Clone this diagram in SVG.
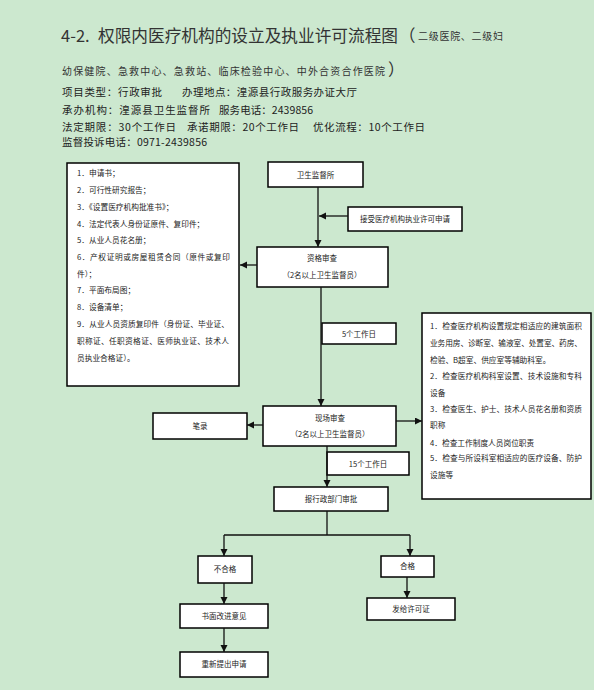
<svg xmlns="http://www.w3.org/2000/svg" width="594" height="690" viewBox="0 0 594 690">
<defs>
<style>
text{font-family:"Noto Sans CJK SC","Noto Sans",sans-serif;fill:#222}
.hd{font-size:10.5px;fill:#222}
.ti{font-size:16.5px;fill:#333}
.sm{font-size:10px;fill:#333}
.bx{fill:#fff;stroke:#000;stroke-width:1.5}
.t{font-size:7.7px}
.c{font-size:7.5px;text-anchor:middle}
.ln{fill:none;stroke:#111;stroke-width:1.3}
</style>
<marker id="ah" markerUnits="userSpaceOnUse" markerWidth="8" markerHeight="8" refX="7" refY="3.5" orient="auto">
<path d="M0,0 L7,3.5 L0,7 z" fill="#111"/>
</marker>
</defs>
<rect x="0" y="0" width="594" height="690" fill="#CCE8CF"/>

<g id="header">
<text class="ti" x="61" y="42">4-2.</text>
<text class="ti" x="98" y="42" textLength="300" lengthAdjust="spacingAndGlyphs">权限内医疗机构的设立及执业许可流程图</text>
<text class="ti" x="399" y="42">（</text>
<text class="sm" x="418" y="40" textLength="85" lengthAdjust="spacing">二级医院、二级妇</text>
<text class="sm" x="62" y="75" font-size="10.5" textLength="323" lengthAdjust="spacing">幼保健院、急救中心、急救站、临床检验中心、中外合资合作医院</text>
<text class="ti" x="388" y="76">）</text>
<text class="hd" x="62" y="96" textLength="100" lengthAdjust="spacing">项目类型：行政审批</text>
<text class="hd" x="182" y="96" textLength="175" lengthAdjust="spacing">办理地点：湟源县行政服务办证大厅</text>
<text class="hd" x="62" y="114" textLength="148" lengthAdjust="spacing">承办机构：湟源县卫生监督所</text>
<text class="hd" x="219" y="114" textLength="94" lengthAdjust="spacing">服务电话：2439856</text>
<text class="hd" x="62" y="131" textLength="114" lengthAdjust="spacing">法定期限：30个工作日</text>
<text class="hd" x="187" y="131" textLength="112" lengthAdjust="spacing">承诺期限：20个工作日</text>
<text class="hd" x="313" y="131" textLength="112" lengthAdjust="spacing">优化流程：10个工作日</text>
<text class="hd" x="62" y="146" textLength="145" lengthAdjust="spacing">监督投诉电话：0971-2439856</text>
</g>

<g id="materials">
<rect class="bx" x="67" y="163" width="172" height="223"/>
<text class="t" x="77" y="176">1．申请书；</text>
<text class="t" x="77" y="193">2．可行性研究报告；</text>
<text class="t" x="77" y="210">3．《设置医疗机构批准书》；</text>
<text class="t" x="77" y="227">4．法定代表人身份证原件、复印件；</text>
<text class="t" x="77" y="243">5．从业人员花名册；</text>
<text class="t" x="77" y="260" textLength="153" lengthAdjust="spacing">6．产权证明或房屋租赁合同（原件或复印</text>
<text class="t" x="77" y="277">件）；</text>
<text class="t" x="77" y="293">7．平面布局图；</text>
<text class="t" x="77" y="310">8．设备清单；</text>
<text class="t" x="77" y="327" textLength="152" lengthAdjust="spacing">9．从业人员资质复印件（身份证、毕业证、</text>
<text class="t" x="77" y="344" textLength="152" lengthAdjust="spacing">职称证、任职资格证、医师执业证、技术人</text>
<text class="t" x="77" y="361">员执业合格证）。</text>
</g>

<g id="supervision">
<rect class="bx" x="268" y="162" width="95" height="25"/>
<text class="c" x="315.5" y="178">卫生监督所</text>
</g>

<g id="accept">
<rect class="bx" x="348" y="207" width="114" height="24"/>
<text class="c" x="405" y="222">接受医疗机构执业许可申请</text>
</g>

<g id="qualification">
<rect class="bx" x="257" y="247" width="131" height="40"/>
<text class="c" x="322" y="261">资格审查</text>
<text class="c" x="322" y="278">（2名以上卫生监督员）</text>
</g>

<g id="days5">
<rect class="bx" x="322" y="323" width="74" height="21"/>
<text class="c" x="359" y="337">5个工作日</text>
</g>

<g id="onsite">
<rect class="bx" x="263" y="406" width="133" height="40"/>
<text class="c" x="330" y="421">现场审查</text>
<text class="c" x="330" y="437">（2名以上卫生监督员）</text>
</g>

<g id="record">
<rect class="bx" x="153" y="413" width="94" height="26"/>
<text class="c" x="200" y="429">笔录</text>
</g>

<g id="checks">
<rect class="bx" x="422" y="313" width="169" height="186"/>
<text class="t" x="430" y="329" textLength="152" lengthAdjust="spacing">1．检查医疗机构设置规定相适应的建筑面积</text>
<text class="t" x="430" y="346" textLength="152" lengthAdjust="spacing">业务用房、诊断室、输液室、处置室、药房、</text>
<text class="t" x="430" y="363">检验、B超室、供应室等辅助科室。</text>
<text class="t" x="430" y="379" textLength="152" lengthAdjust="spacing">2．检查医疗机构科室设置、技术设施和专科</text>
<text class="t" x="430" y="396">设备</text>
<text class="t" x="430" y="412" textLength="152" lengthAdjust="spacing">3．检查医生、护士、技术人员花名册和资质</text>
<text class="t" x="430" y="428">职称</text>
<text class="t" x="430" y="446">4．检查工作制度人员岗位职责</text>
<text class="t" x="430" y="461" textLength="152" lengthAdjust="spacing">5．检查与所设科室相适应的医疗设备、防护</text>
<text class="t" x="430" y="478">设施等</text>
</g>

<g id="days15">
<rect class="bx" x="327" y="452" width="82" height="23"/>
<text class="c" x="368" y="467">15个工作日</text>
</g>

<g id="approve">
<rect class="bx" x="274" y="487" width="114" height="24"/>
<text class="c" x="331" y="502">报行政部门审批</text>
</g>

<g id="fail">
<rect class="bx" x="198" y="556" width="54" height="27"/>
<text class="c" x="225" y="572">不合格</text>
</g>

<g id="pass">
<rect class="bx" x="381" y="556" width="53" height="21"/>
<text class="c" x="407.5" y="569">合格</text>
</g>

<g id="notice">
<rect class="bx" x="180" y="604" width="88" height="24"/>
<text class="c" x="224" y="619">书面改进意见</text>
</g>

<g id="reapply">
<rect class="bx" x="180" y="652" width="88" height="25"/>
<text class="c" x="224" y="667">重新提出申请</text>
</g>

<g id="license">
<rect class="bx" x="367" y="598" width="88" height="22"/>
<text class="c" x="411" y="612">发给许可证</text>
</g>

<g id="connectors">
<path class="ln" d="M318,187 V247" marker-end="url(#ah)"/>
<path class="ln" d="M348,216 H319" marker-end="url(#ah)"/>
<path class="ln" d="M257,265 H240" marker-end="url(#ah)"/>
<path class="ln" d="M321,287 V406" marker-end="url(#ah)"/>
<path class="ln" d="M263,425 H247" marker-end="url(#ah)"/>
<path class="ln" d="M396,421 H422" marker-end="url(#ah)"/>
<path class="ln" d="M327,446 V487" marker-end="url(#ah)"/>
<path class="ln" d="M327,511 V535 M224,535 H410"/>
<path class="ln" d="M224,535 V556" marker-end="url(#ah)"/>
<path class="ln" d="M410,535 V556" marker-end="url(#ah)"/>
<path class="ln" d="M224,583 V604" marker-end="url(#ah)"/>
<path class="ln" d="M224,628 V652" marker-end="url(#ah)"/>
<path class="ln" d="M407,577 V598" marker-end="url(#ah)"/>
</g>
</svg>
